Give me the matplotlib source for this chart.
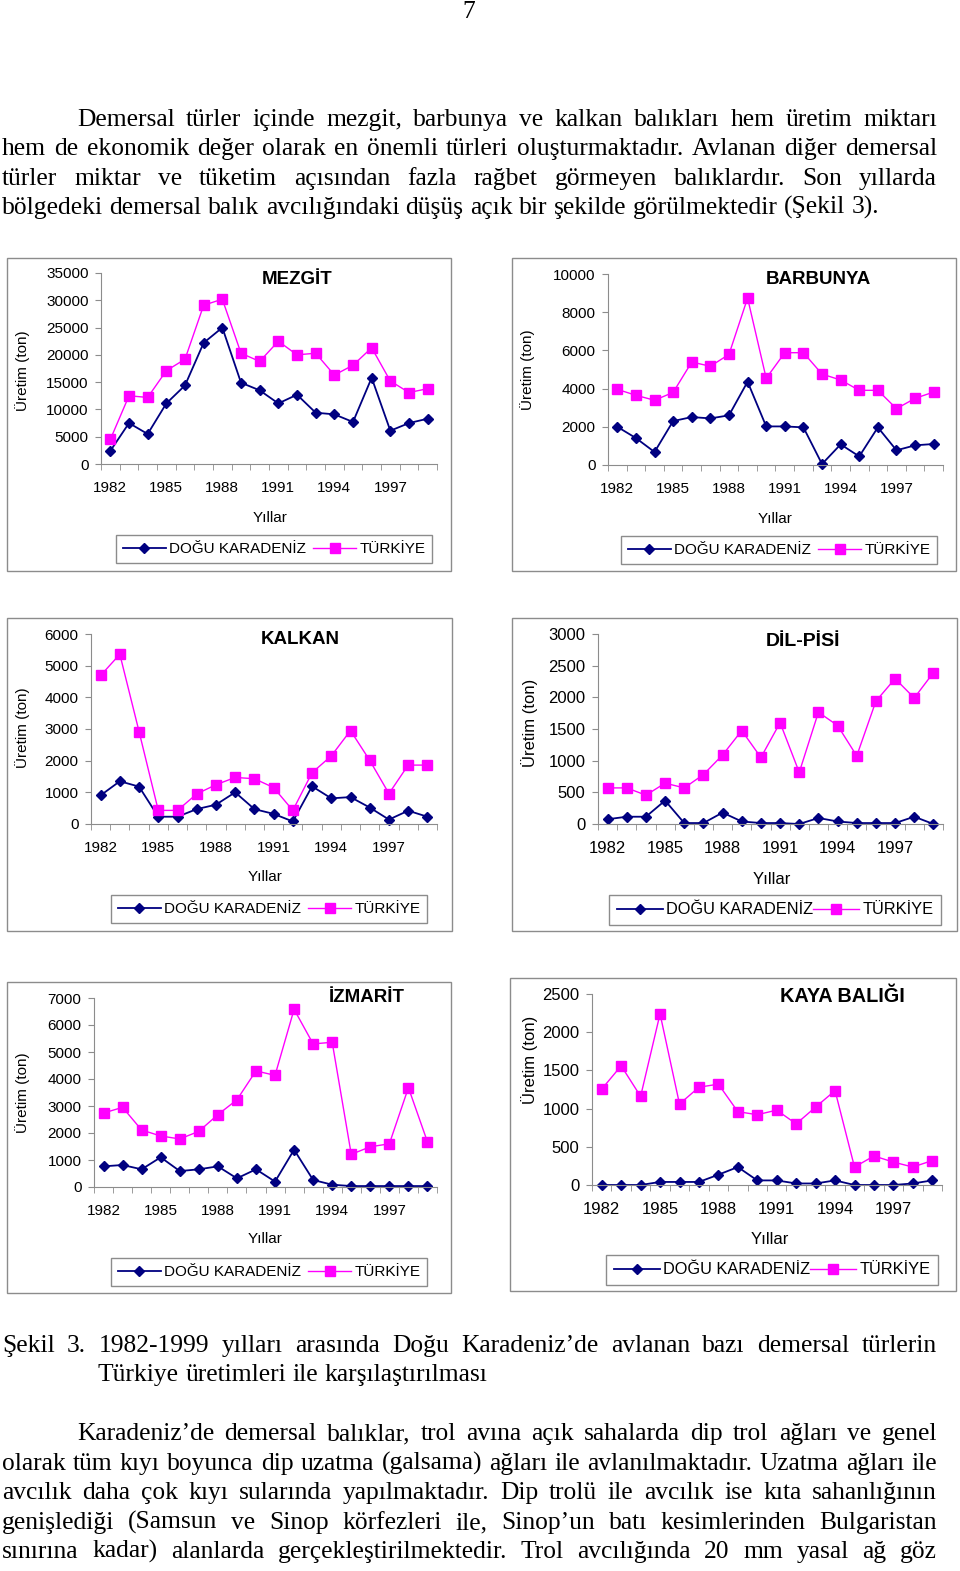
import matplotlib
matplotlib.use("Agg")
import matplotlib.pyplot as plt
from matplotlib.patches import Rectangle
from matplotlib.ticker import FixedLocator, MultipleLocator

# ---- data (tons) ----
years = list(range(1982, 2000))
year_labels = [1982, 1985, 1988, 1991, 1994, 1997]

mezgit_dk = [2400, 7500, 5500, 11100, 14400, 22200, 25000, 14900, 13500, 11100, 12700, 9400, 9100, 7700, 15800, 6100, 7500, 8300]
mezgit_tr = [4500, 12500, 12200, 17100, 19200, 29100, 30200, 20300, 18800, 22500, 20000, 20300, 16300, 18100, 21300, 15200, 13100, 13800]

barbunya_dk = [2000, 1410, 680, 2300, 2510, 2440, 2600, 4360, 2020, 2020, 1970, 50, 1080, 450, 1970, 770, 1030, 1100]
barbunya_tr = [3960, 3650, 3390, 3800, 5390, 5170, 5790, 8740, 4540, 5880, 5880, 4760, 4450, 3910, 3910, 2950, 3490, 3820]

kalkan_dk = [905, 1350, 1180, 230, 230, 470, 610, 1000, 470, 320, 80, 1190, 810, 850, 520, 140, 420, 230]
kalkan_tr = [4690, 5360, 2920, 430, 430, 950, 1240, 1470, 1430, 1150, 430, 1620, 2150, 2950, 2010, 960, 1860, 1860]

dilpisi_dk = [75, 115, 115, 370, 15, 15, 180, 40, 15, 15, 0, 95, 40, 15, 15, 15, 115, 0]
dilpisi_tr = [570, 570, 455, 645, 570, 780, 1090, 1475, 1050, 1600, 815, 1765, 1555, 1075, 1940, 2295, 1990, 2390]

izmarit_dk = [765, 815, 655, 1100, 590, 655, 765, 320, 655, 200, 1380, 260, 85, 35, 35, 35, 35, 35]
izmarit_tr = [2740, 2950, 2110, 1890, 1780, 2060, 2680, 3230, 4300, 4135, 6580, 5300, 5360, 1210, 1490, 1600, 3680, 1670]

kaya_dk = [0, 0, 0, 40, 40, 40, 135, 235, 60, 60, 20, 20, 60, 0, 0, 0, 20, 60]
kaya_tr = [1255, 1560, 1160, 2240, 1060, 1280, 1320, 960, 920, 980, 800, 1020, 1235, 235, 380, 300, 235, 320]

series_names = ["DOĞU KARADENİZ", "TÜRKİYE"]

para1 = [
    "Demersal türler içinde mezgit, barbunya ve kalkan balıkları hem üretim miktarı",
    "hem de ekonomik değer olarak en önemli türleri oluşturmaktadır. Avlanan diğer demersal",
    "türler miktar ve tüketim açısından fazla rağbet görmeyen balıklardır. Son yıllarda",
    "bölgedeki demersal balık avcılığındaki düşüş açık bir şekilde görülmektedir (Şekil 3).",
]
caption = [
    "Şekil 3. 1982-1999 yılları arasında Doğu Karadeniz’de avlanan bazı demersal türlerin",
    "Türkiye üretimleri ile karşılaştırılması",
]
para2 = [
    "Karadeniz’de demersal balıklar, trol avına açık sahalarda dip trol ağları ve genel",
    "olarak tüm kıyı boyunca dip uzatma (galsama) ağları ile avlanılmaktadır. Uzatma ağları ile",
    "avcılık daha çok kıyı sularında yapılmaktadır. Dip trolü ile avcılık ise kıta sahanlığının",
    "genişlediği (Samsun ve Sinop körfezleri ile, Sinop’un batı kesimlerinden Bulgaristan",
    "sınırına kadar) alanlarda gerçekleştirilmektedir. Trol avcılığında 20 mm yasal ağ göz",
]

W, H = 960, 1571
SERIF = "Liberation Serif"
SANS = "Liberation Sans"
NAVY = "#000080"
MAGENTA = "#FF00FF"
GRAY = "#8c8c8c"
TEXT_SIZE = 18.4

plt.rcParams["font.family"] = [SANS, "DejaVu Sans"]
fig = plt.figure(figsize=(W / 100, H / 100), dpi=100)
renderer = fig.canvas.get_renderer()


def fx(x):
    return x / W


def fy(y):
    return 1 - y / H


def text_line(y, line, x0, x1=None):
    # place words one by one so the line can be justified like the page
    words = line.split()
    items = [fig.text(0, fy(y), w, fontsize=TEXT_SIZE, family=SERIF, va="baseline") for w in words]
    widths = [t.get_window_extent(renderer).width for t in items]
    if x1 is None:
        gap = 0.25 * TEXT_SIZE * 100 / 72
    else:
        gap = (x1 - x0 - sum(widths)) / (len(words) - 1)
    x = x0
    for t, w in zip(items, widths):
        t.set_x(fx(x))
        x += w + gap


fig.text(fx(469), fy(18), "7", fontsize=TEXT_SIZE, family=SERIF, ha="center", va="baseline")

baselines1 = [126, 155, 185, 214]
for i, line in enumerate(para1):
    x0 = 77 if i == 0 else 2
    text_line(baselines1[i], line, x0, 937 if i < len(para1) - 1 else None)

text_line(1352, caption[0], 2, 937)
text_line(1381, caption[1], 98)

baselines2 = [1440, 1470, 1499, 1529, 1558]
for i, line in enumerate(para2):
    text_line(baselines2[i], line, 77 if i == 0 else 2, 937)

# ---- the six small charts ----
charts = [
    dict(dk=mezgit_dk, tr=mezgit_tr, title="MEZGİT", ymax=35000, step=5000,
         frame=(7, 258, 451, 571), ax=(101, 273, 437, 464), title_xy=(297, 280),
         ylab=(23, 371), xlab=(270, 518), leg=(274, 549), fs=11, tfs=13.5, lfs=11, cs=0.5),
    dict(dk=barbunya_dk, tr=barbunya_tr, title="BARBUNYA", ymax=10000, step=2000,
         frame=(512, 258, 956, 571), ax=(608, 274, 943, 465), title_xy=(818, 280),
         ylab=(528, 370), xlab=(775, 519), leg=(779, 550), fs=11, tfs=13.5, lfs=11, cs=0.5),
    dict(dk=kalkan_dk, tr=kalkan_tr, title="KALKAN", ymax=6000, step=1000,
         frame=(7, 618, 452, 931), ax=(91, 634, 437, 824), title_xy=(300, 639),
         ylab=(23, 728), xlab=(265, 877), leg=(269, 909), fs=11, tfs=13.5, lfs=11, cs=0.5),
    dict(dk=dilpisi_dk, tr=dilpisi_tr, title="DİL-PİSİ", ymax=3000, step=500,
         frame=(512, 618, 957, 931), ax=(598, 634, 943, 824), title_xy=(803, 641),
         ylab=(530, 723), xlab=(772, 879), leg=(775, 910), fs=12, tfs=14, lfs=11.8, cs=0.0),
    dict(dk=izmarit_dk, tr=izmarit_tr, title="İZMARİT", ymax=7000, step=1000,
         frame=(7, 982, 451, 1293), ax=(94, 998, 437, 1187), title_xy=(367, 997),
         ylab=(23, 1093), xlab=(265, 1239), leg=(269, 1272), fs=11, tfs=13.5, lfs=11, cs=0.5),
    dict(dk=kaya_dk, tr=kaya_tr, title="KAYA BALIĞI", ymax=2500, step=500,
         frame=(510, 978, 956, 1291), ax=(592, 994, 942, 1185), title_xy=(842, 996),
         ylab=(530, 1060), xlab=(770, 1239), leg=(772, 1270), fs=12, tfs=14.3, lfs=11.8, cs=0.0),
]

idx = list(range(len(years)))
for c in charts:
    x0, y0, x1, y1 = c["frame"]
    fig.add_artist(Rectangle((fx(x0), fy(y1)), (x1 - x0) / W, (y1 - y0) / H,
                             transform=fig.transFigure, fill=False, edgecolor=GRAY, lw=1))
    l, t, r, b = c["ax"]
    ax = fig.add_axes([fx(l), fy(b), (r - l) / W, (b - t) / H])
    h1, = ax.plot(idx, c["dk"], color=NAVY, lw=1.3, marker="D", ms=5.5, clip_on=False)
    h2, = ax.plot(idx, c["tr"], color=MAGENTA, lw=1.0, marker="s", ms=7, clip_on=False)
    ax.set_xlim(-0.5, len(years) - 0.5)
    ax.set_ylim(0, c["ymax"])
    ax.yaxis.set_major_locator(MultipleLocator(c["step"]))
    ax.xaxis.set_major_locator(FixedLocator([years.index(y) for y in year_labels]))
    ax.set_xticklabels([str(y) for y in year_labels])
    ax.xaxis.set_minor_locator(FixedLocator([i - 0.5 for i in range(len(years) + 1)]))
    ax.tick_params(axis="x", which="major", length=0, pad=12, labelsize=c["fs"])
    ax.tick_params(axis="x", which="minor", length=4, color=GRAY)
    ax.tick_params(axis="y", length=4, color=GRAY, pad=5, labelsize=c["fs"])
    for s in ["top", "right"]:
        ax.spines[s].set_visible(False)
    for s in ["left", "bottom"]:
        ax.spines[s].set_color(GRAY)
    ax.patch.set_alpha(0)

    fig.text(fx(c["title_xy"][0]), fy(c["title_xy"][1]), c["title"], fontsize=c["tfs"],
             fontweight="bold", ha="center", va="center")
    fig.text(fx(c["ylab"][0]), fy(c["ylab"][1]), "Üretim (ton)", fontsize=c["fs"],
             rotation=90, ha="center", va="center")
    fig.text(fx(c["xlab"][0]), fy(c["xlab"][1]), "Yıllar", fontsize=c["fs"],
             ha="center", va="center")
    ax.legend([h1, h2], series_names, loc="center", ncol=2,
              bbox_to_anchor=(fx(c["leg"][0]), fy(c["leg"][1])), bbox_transform=fig.transFigure,
              fancybox=False, edgecolor=GRAY, framealpha=1, fontsize=c["lfs"],
              handlelength=2.8, handletextpad=0.2, columnspacing=c["cs"], borderpad=0.45)

fig.savefig("out.png", dpi=100)
plt.close()
